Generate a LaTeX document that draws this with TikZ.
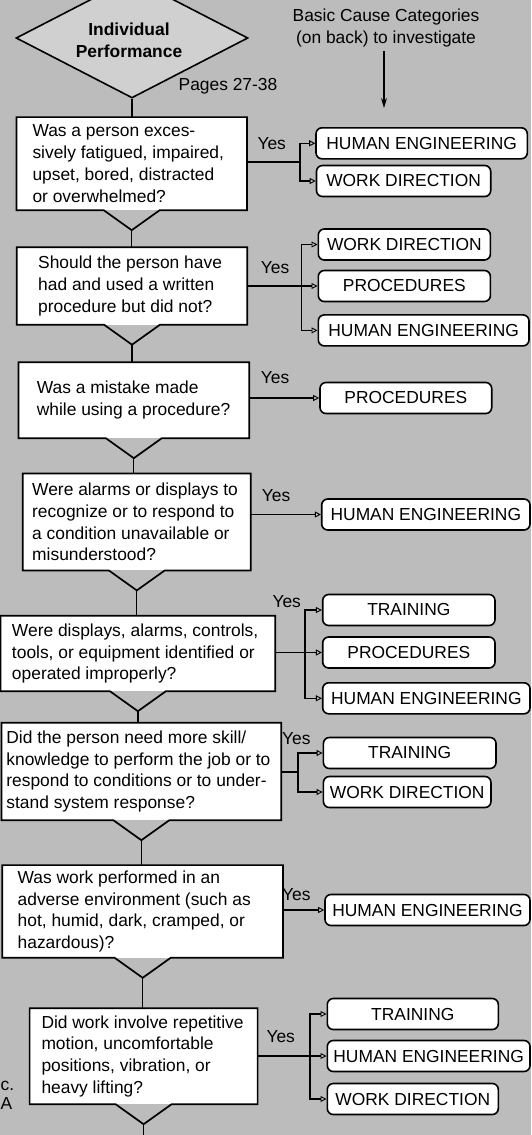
\documentclass[tikz,border=0pt]{standalone}
\usepackage{fontspec}
\setmainfont{Liberation Sans}
\usetikzlibrary{shapes.geometric,arrows.meta,calc}

\definecolor{paper}{RGB}{188,188,188}
\definecolor{startfill}{RGB}{208,208,208}

\newcommand\qfont{\fontsize{17.4}{21.8}\selectfont}

\tikzset{
  question/.style={fill=white, inner sep=0pt},
  qtext/.style={anchor=west, align=left, inner sep=0pt, font=\qfont},
  qoutline/.style={line width=1.7pt, line join=miter},
  cause/.style={draw, fill=white, rounded corners=6pt, line width=1.6pt,
                minimum height=31pt, inner sep=0pt, font=\qfont},
  flow/.style={line width=1.2pt},
  yesarrow/.style={-{Triangle[open,length=6pt,width=6pt,line width=0.9pt]}, line width=1.1pt},
  yeslabel/.style={font=\qfont, inner sep=0pt},
}

% question box: name, left, right, top, bottom, text inset, text
\newcommand\qbox[7]{%
  \node[question, minimum width={#3-#2}, minimum height={#5-#4}]
        (#1) at ({(#2+#3)/2},{(#4+#5)/2}) {};
  \draw[qoutline] (#1.south west) -- (#1.north west) -- (#1.north east)
        -- (#1.south east) -- ($(#1.south)+(28,0)$)
        -- ($(#1.south)+(0,20)$) coordinate (#1tip)
        -- ($(#1.south)+(-28,0)$) -- cycle;
  \node[qtext] (#1text) at ({#2+#6},{(#4+#5)/2}) {#7};
}
% cause category box: name, left, right, centre y, text
\newcommand\cbox[5]{%
  \node[cause, minimum width={#3-#2}] (#1) at ({(#2+#3)/2},#4) {#5};
}

\begin{document}
\begin{tikzpicture}[x=1pt, y=-1pt]
  \fill[paper] (0,0) rectangle (531,1135);
  \clip (0,0) rectangle (531,1135);
  \useasboundingbox (0,0) rectangle (531,1135);

  % start symbol
  \node[diamond, draw, fill=startfill, line width=1.6pt, inner sep=0pt,
        minimum width=232pt, minimum height=120pt] (start) at (132,38) {};
  \node[align=center, font=\qfont\bfseries, inner sep=0pt] (starttxt) at (129,40)
       {Individual\\Performance};
  \node[font=\qfont, inner sep=0pt] (pages) at (228,86) {Pages 27-38};

  % heading for the right-hand column
  \node[align=center, font=\qfont, inner sep=0pt] (hdr) at (386,28)
       {Basic Cause Categories\\(on back) to investigate};
  \coordinate (hdrend) at (384,108);
  \draw[line width=1.1pt, -{Stealth[length=10pt,width=6pt]}, shorten <=4pt]
       (hdr.south -| hdrend) -- (hdrend);

  % question boxes
  \qbox{q1}{16.7}{246.7}{117.3}{210}{15.6}{Was a person exces-\\sively fatigued, impaired,\\upset, bored, distracted\\or overwhelmed?}
  \qbox{q2}{17}{247}{247.5}{324.5}{21}{Should the person have\\had and used a written\\procedure but did not?}
  \qbox{q3}{18.6}{249}{362.5}{438}{18}{Was a mistake made\\while using a procedure?}
  \qbox{q4}{23}{250.6}{473.7}{570.2}{9}{Were alarms or displays to\\recognize or to respond to\\a condition unavailable or\\misunderstood?}
  \qbox{q5}{0.8}{275}{616}{691}{11}{Were displays, alarms, controls,\\tools, or equipment identified or\\operated improperly?}
  \qbox{q6}{1.7}{281}{723}{820}{4.5}{Did the person need more skill/\\knowledge to perform the job or to\\respond to conditions or to under-\\stand system response?}
  \qbox{q7}{2.5}{282.8}{865.3}{957.6}{15}{Was work performed in an\\adverse environment (such as\\hot, humid, dark, cramped, or\\hazardous)?}
  \qbox{q8}{29.8}{257.4}{1008.4}{1104}{11.5}{Did work involve repetitive\\motion, uncomfortable\\positions, vibration, or\\heavy lifting?}

  % spine
  \coordinate (exit) at (144,1135);
  \draw[flow] (start.south) -- (start.south |- q1.north);
  \draw[flow] (q1tip) -- (q1tip |- q2.north);
  \draw[flow] (q2tip) -- (q2tip |- q3.north);
  \draw[flow] (q3tip) -- (q3tip |- q4.north);
  \draw[flow] (q4tip) -- (q4tip |- q5.north);
  \draw[flow] (q5tip) -- (q5tip |- q6.north);
  \draw[flow] (q6tip) -- (q6tip |- q7.north);
  \draw[flow] (q7tip) -- (q7tip |- q8.north);
  \draw[flow] (q8tip) -- (q8tip |- exit);

  % cause categories
  \cbox{he1}{316}{527.3}{143.3}{HUMAN ENGINEERING}
  \cbox{wd1}{316.5}{490.7}{181}{WORK DIRECTION}
  \cbox{wd2}{318.3}{490.4}{244.5}{WORK DIRECTION}
  \cbox{pr2}{318.3}{490.4}{286}{PROCEDURES}
  \cbox{he2}{318.3}{529}{330.4}{HUMAN ENGINEERING}
  \cbox{pr3}{320}{491.7}{398}{PROCEDURES}
  \cbox{he4}{321.7}{530}{514.5}{HUMAN ENGINEERING}
  \cbox{tr5}{322.7}{495}{610}{TRAINING}
  \cbox{pr5}{322.7}{495}{652.5}{PROCEDURES}
  \cbox{he5}{322.7}{530}{698.3}{HUMAN ENGINEERING}
  \cbox{tr6}{323.4}{496}{753}{TRAINING}
  \cbox{wd6}{323.4}{491}{792}{WORK DIRECTION}
  \cbox{he7}{325}{530}{910}{HUMAN ENGINEERING}
  \cbox{tr8}{327.3}{498.3}{1014}{TRAINING}
  \cbox{he8}{327.3}{530}{1056}{HUMAN ENGINEERING}
  \cbox{wd8}{327.3}{498.3}{1099}{WORK DIRECTION}

  % "Yes" branches
  \coordinate (b1) at (300,162);
  \draw[flow] (q1.east |- b1) -- (b1);
  \draw[yesarrow] (b1) |- (he1.west);
  \draw[yesarrow] (b1) |- (wd1.west);

  \coordinate (b2) at (301.4,286);
  \draw[flow] (q2.east |- b2) -- (b2);
  \draw[yesarrow] (b2) |- (wd2.west);
  \draw[yesarrow] (b2) -- (pr2.west);
  \draw[yesarrow] (b2) |- (he2.west);

  \draw[yesarrow] (pr3.west -| q3.east) -- (pr3.west);
  \draw[yesarrow] (he4.west -| q4.east) -- (he4.west);

  \coordinate (b5) at (305,652.5);
  \draw[flow] (q5.east |- b5) -- (b5);
  \draw[yesarrow] (b5) |- (tr5.west);
  \draw[yesarrow] (b5) -- (pr5.west);
  \draw[yesarrow] (b5) |- (he5.west);

  \coordinate (b6) at (298,772);
  \draw[flow] (q6.east |- b6) -- (b6);
  \draw[yesarrow] (b6) |- (tr6.west);
  \draw[yesarrow] (b6) |- (wd6.west);

  \draw[yesarrow] (he7.west -| q7.east) -- (he7.west);

  \coordinate (b8) at (310,1056);
  \draw[flow] (q8.east |- b8) -- (b8);
  \draw[yesarrow] (b8) |- (tr8.west);
  \draw[yesarrow] (b8) -- (he8.west);
  \draw[yesarrow] (b8) |- (wd8.west);

  % labels
  \node[yeslabel] (y1) at (271.7,143.3) {Yes};
  \node[yeslabel] (y2) at (275,267.7) {Yes};
  \node[yeslabel] (y3) at (275,377.8) {Yes};
  \node[yeslabel] (y4) at (276,495.7) {Yes};
  \node[yeslabel] (y5) at (286.7,601.7) {Yes};
  \node[yeslabel] (y6) at (296.3,739) {Yes};
  \node[yeslabel] (y7) at (296.3,894.7) {Yes};
  \node[yeslabel] (y8) at (280.7,1036.7) {Yes};

  % edge of the neighbouring column
  \node[font=\qfont, anchor=west, inner sep=0pt] (frag1) at (0.5,1086) {c.};
  \node[font=\qfont, anchor=west, inner sep=0pt] (frag2) at (0.5,1104) {A};
\end{tikzpicture}
\end{document}
